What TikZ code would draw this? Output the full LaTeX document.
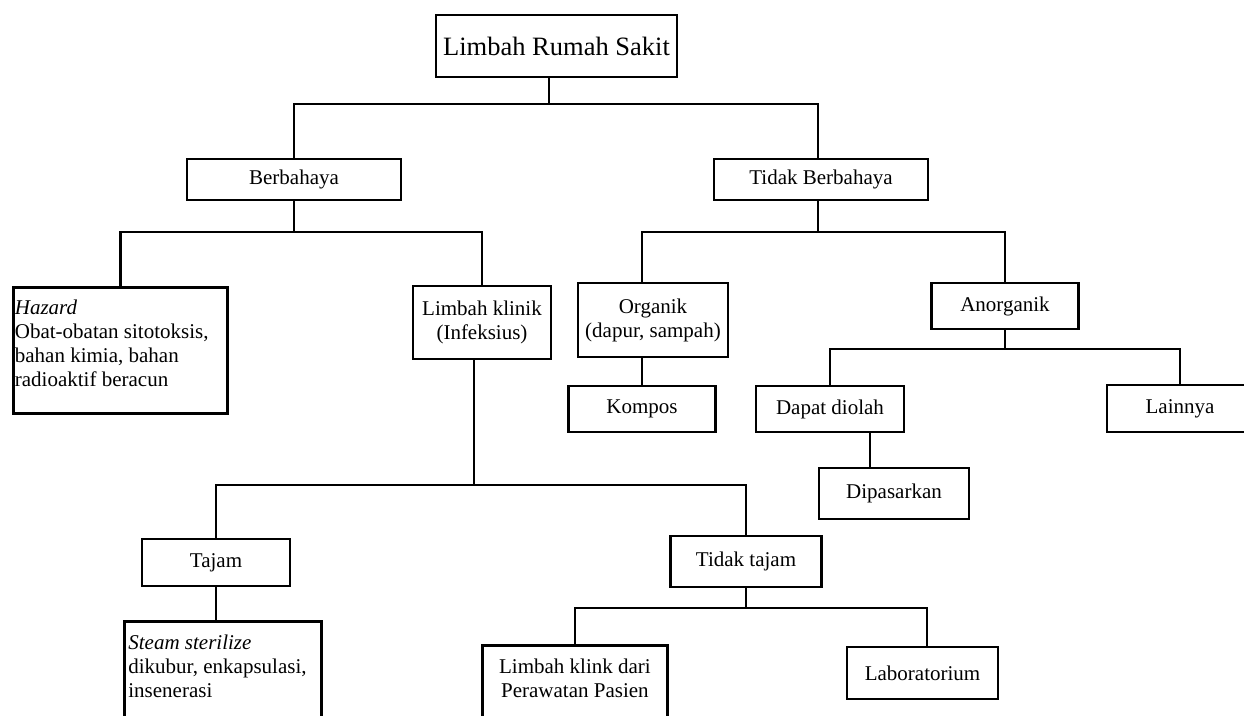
\documentclass[tikz,border=0pt]{standalone}
\usepackage{fontspec}
\setmainfont{Liberation Serif}
\begin{document}
\begin{tikzpicture}[x=1pt,y=-1pt,
  box/.style={draw, line width=2.8pt, inner sep=0pt, align=center, font=\fontsize{21}{24}\selectfont},
  conn/.style={line width=2.8pt}]
\useasboundingbox (0,0) rectangle (1244,715);
\clip (0,0) rectangle (1244,715);
\fill[white] (0,0) rectangle (1244,715);

% nodes
\node[box, minimum width=241pt, minimum height=62pt, font=\fontsize{26.5}{30}\selectfont] (root) at (556.5,46) {Limbah Rumah Sakit};
\node[box, minimum width=214pt, minimum height=41pt] (ber) at (294,179.5) {Berbahaya};
\node[box, minimum width=214pt, minimum height=41pt] (tb) at (821,179.5) {Tidak Berbahaya};
\node[box, anchor=north west] (haz) at (12,286) {\begin{minipage}[c][126pt][t]{214pt}\raggedright\leftskip=1.5pt\rule{0pt}{27pt}\textit{Hazard}\\Obat-obatan sitotoksis,\\bahan kimia, bahan\\radioaktif beracun\end{minipage}};
\node[box, minimum width=138pt, minimum height=73pt] (kl) at (482,322.5) {Limbah klinik\\(Infeksius)};
\node[box, minimum width=150pt, minimum height=74pt] (org) at (653,320) {Organik\\(dapur, sampah)};
\node[box, minimum width=147pt, minimum height=46pt] (an) at (1005,306) {Anorganik};
\node[box, minimum width=147pt, minimum height=46pt] (kom) at (642,409) {Kompos};
\node[box, minimum width=148pt, minimum height=46pt] (dap) at (830,409) {Dapat diolah};
\node[box, minimum width=146pt, minimum height=47pt] (lain) at (1180,408.5) {Lainnya};
\node[box, minimum width=150pt, minimum height=51pt] (dip) at (894,493.5) {Dipasarkan};
\node[box, minimum width=148pt, minimum height=47pt] (taj) at (216,562.5) {Tajam};
\node[box, minimum width=151pt, minimum height=51pt] (tt) at (746,561.5) {Tidak tajam};
\node[box, anchor=north west] (steam) at (123,620) {\begin{minipage}[c][130pt][t]{197pt}\raggedright\leftskip=4pt\rule{0pt}{28pt}\textit{Steam sterilize}\\dikubur, enkapsulasi,\\insenerasi\end{minipage}};
\node[box, anchor=north west] (klk) at (481,644) {\begin{minipage}[c][100pt][t]{185pt}\centering\rule{0pt}{28pt}Limbah klink dari\\Perawatan Pasien\end{minipage}};
\node[box, minimum width=151pt, minimum height=52pt] (lab) at (922.5,673) {Laboratorium};

% connectors
\coordinate (j0) at (549,104);
\coordinate (j0r) at (818,104);
\draw[conn] (root.south -| j0) -- (j0);
\draw[conn] (ber.north) |- (j0r) -- (tb.north -| j0r);

\coordinate (j1) at (294,232);
\draw[conn] (ber.south) -- (j1);
\draw[conn] (haz.north) -- (haz.north |- j1) -- (kl.north |- j1) -- (kl.north);

\coordinate (j2) at (818,232);
\coordinate (orgx) at (642,0);
\draw[conn] (tb.south -| j2) -- (j2);
\draw[conn] (org.north -| orgx) -- (orgx |- j2) -- (an.north |- j2) -- (an.north);
\draw[conn] (org.south -| orgx) -- (kom.north);

\coordinate (j3) at (1005,349);
\draw[conn] (an.south) -- (j3);
\draw[conn] (dap.north) |- (j3) -| (lain.north);

\coordinate (dx) at (870,0);
\draw[conn] (dap.south -| dx) -- (dip.north -| dx);

\coordinate (j4) at (474,485);
\draw[conn] (kl.south -| j4) -- (j4);
\draw[conn] (taj.north) |- (j4) -| (tt.north);

\draw[conn] (taj.south) -- (taj.south |- steam.north);

\coordinate (j5) at (746,608);
\coordinate (labx) at (927,0);
\draw[conn] (tt.south) -- (j5);
\draw[conn] (klk.north) |- (j5) -| (lab.north -| labx);
\end{tikzpicture}
\end{document}
